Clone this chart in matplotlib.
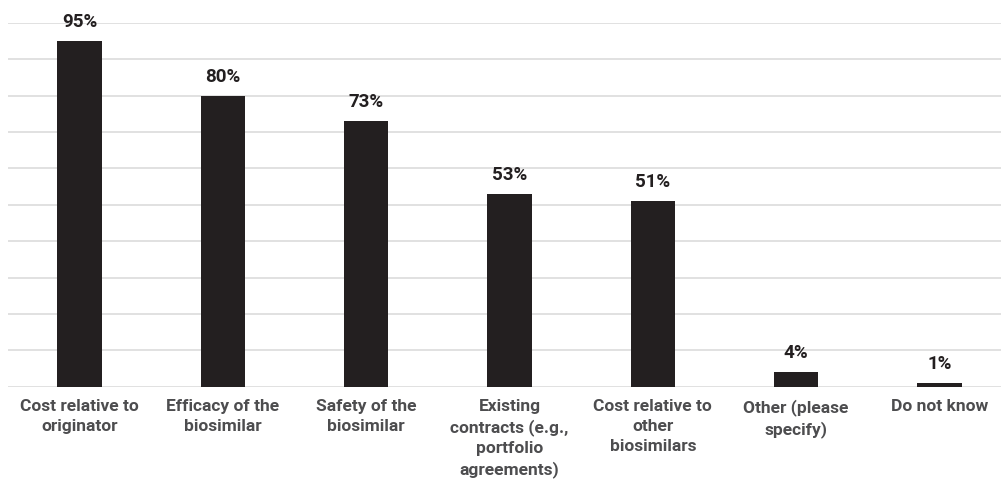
import matplotlib
matplotlib.use("Agg")
import matplotlib.pyplot as plt

CATEGORIES = [
    "Cost relative to\noriginator",
    "Efficacy of the\nbiosimilar",
    "Safety of the\nbiosimilar",
    "Existing\ncontracts (e.g.,\nportfolio\nagreements)",
    "Cost relative to\nother\nbiosimilars",
    "Other (please\nspecify)",
    "Do not know",
]
VALUES = [95, 80, 73, 53, 51, 4, 1]

BAR_COLOR = "#231f20"
LABEL_COLOR = "#4d4d4f"
GRID_COLOR = "#dcdcdc"

plt.rcParams["font.family"] = ["Roboto", "DejaVu Sans"]

fig = plt.figure(figsize=(10.01, 4.92), dpi=100)
ax = fig.add_axes([8 / 1001, 105.3 / 492, 1003 / 1001, 363.7 / 492])

x = list(range(len(CATEGORIES)))
ax.bar(x, VALUES, width=0.31, color=BAR_COLOR, zorder=3)

for xi, v in zip(x, VALUES):
    ax.annotate(f"{v}%", (xi, v), xytext=(0, 7), textcoords="offset points",
                ha="center", va="bottom", fontsize=13.5, fontweight="bold",
                color=BAR_COLOR)

ax.set_xlim(-0.5, len(CATEGORIES) - 0.5)
ax.set_ylim(0, 100)
ax.set_yticks(range(0, 101, 10))
ax.yaxis.grid(True, color=GRID_COLOR, linewidth=1.2, zorder=0)
ax.tick_params(axis="y", left=False, labelleft=False)
ax.tick_params(axis="x", length=0, pad=9)
ax.set_xticks(x)
ax.set_xticklabels(CATEGORIES, fontsize=12.5, fontweight="bold",
                   color=LABEL_COLOR, linespacing=1.4, va="top")
for s in ax.spines.values():
    s.set_visible(False)

fig.savefig("out.png", dpi=100)
